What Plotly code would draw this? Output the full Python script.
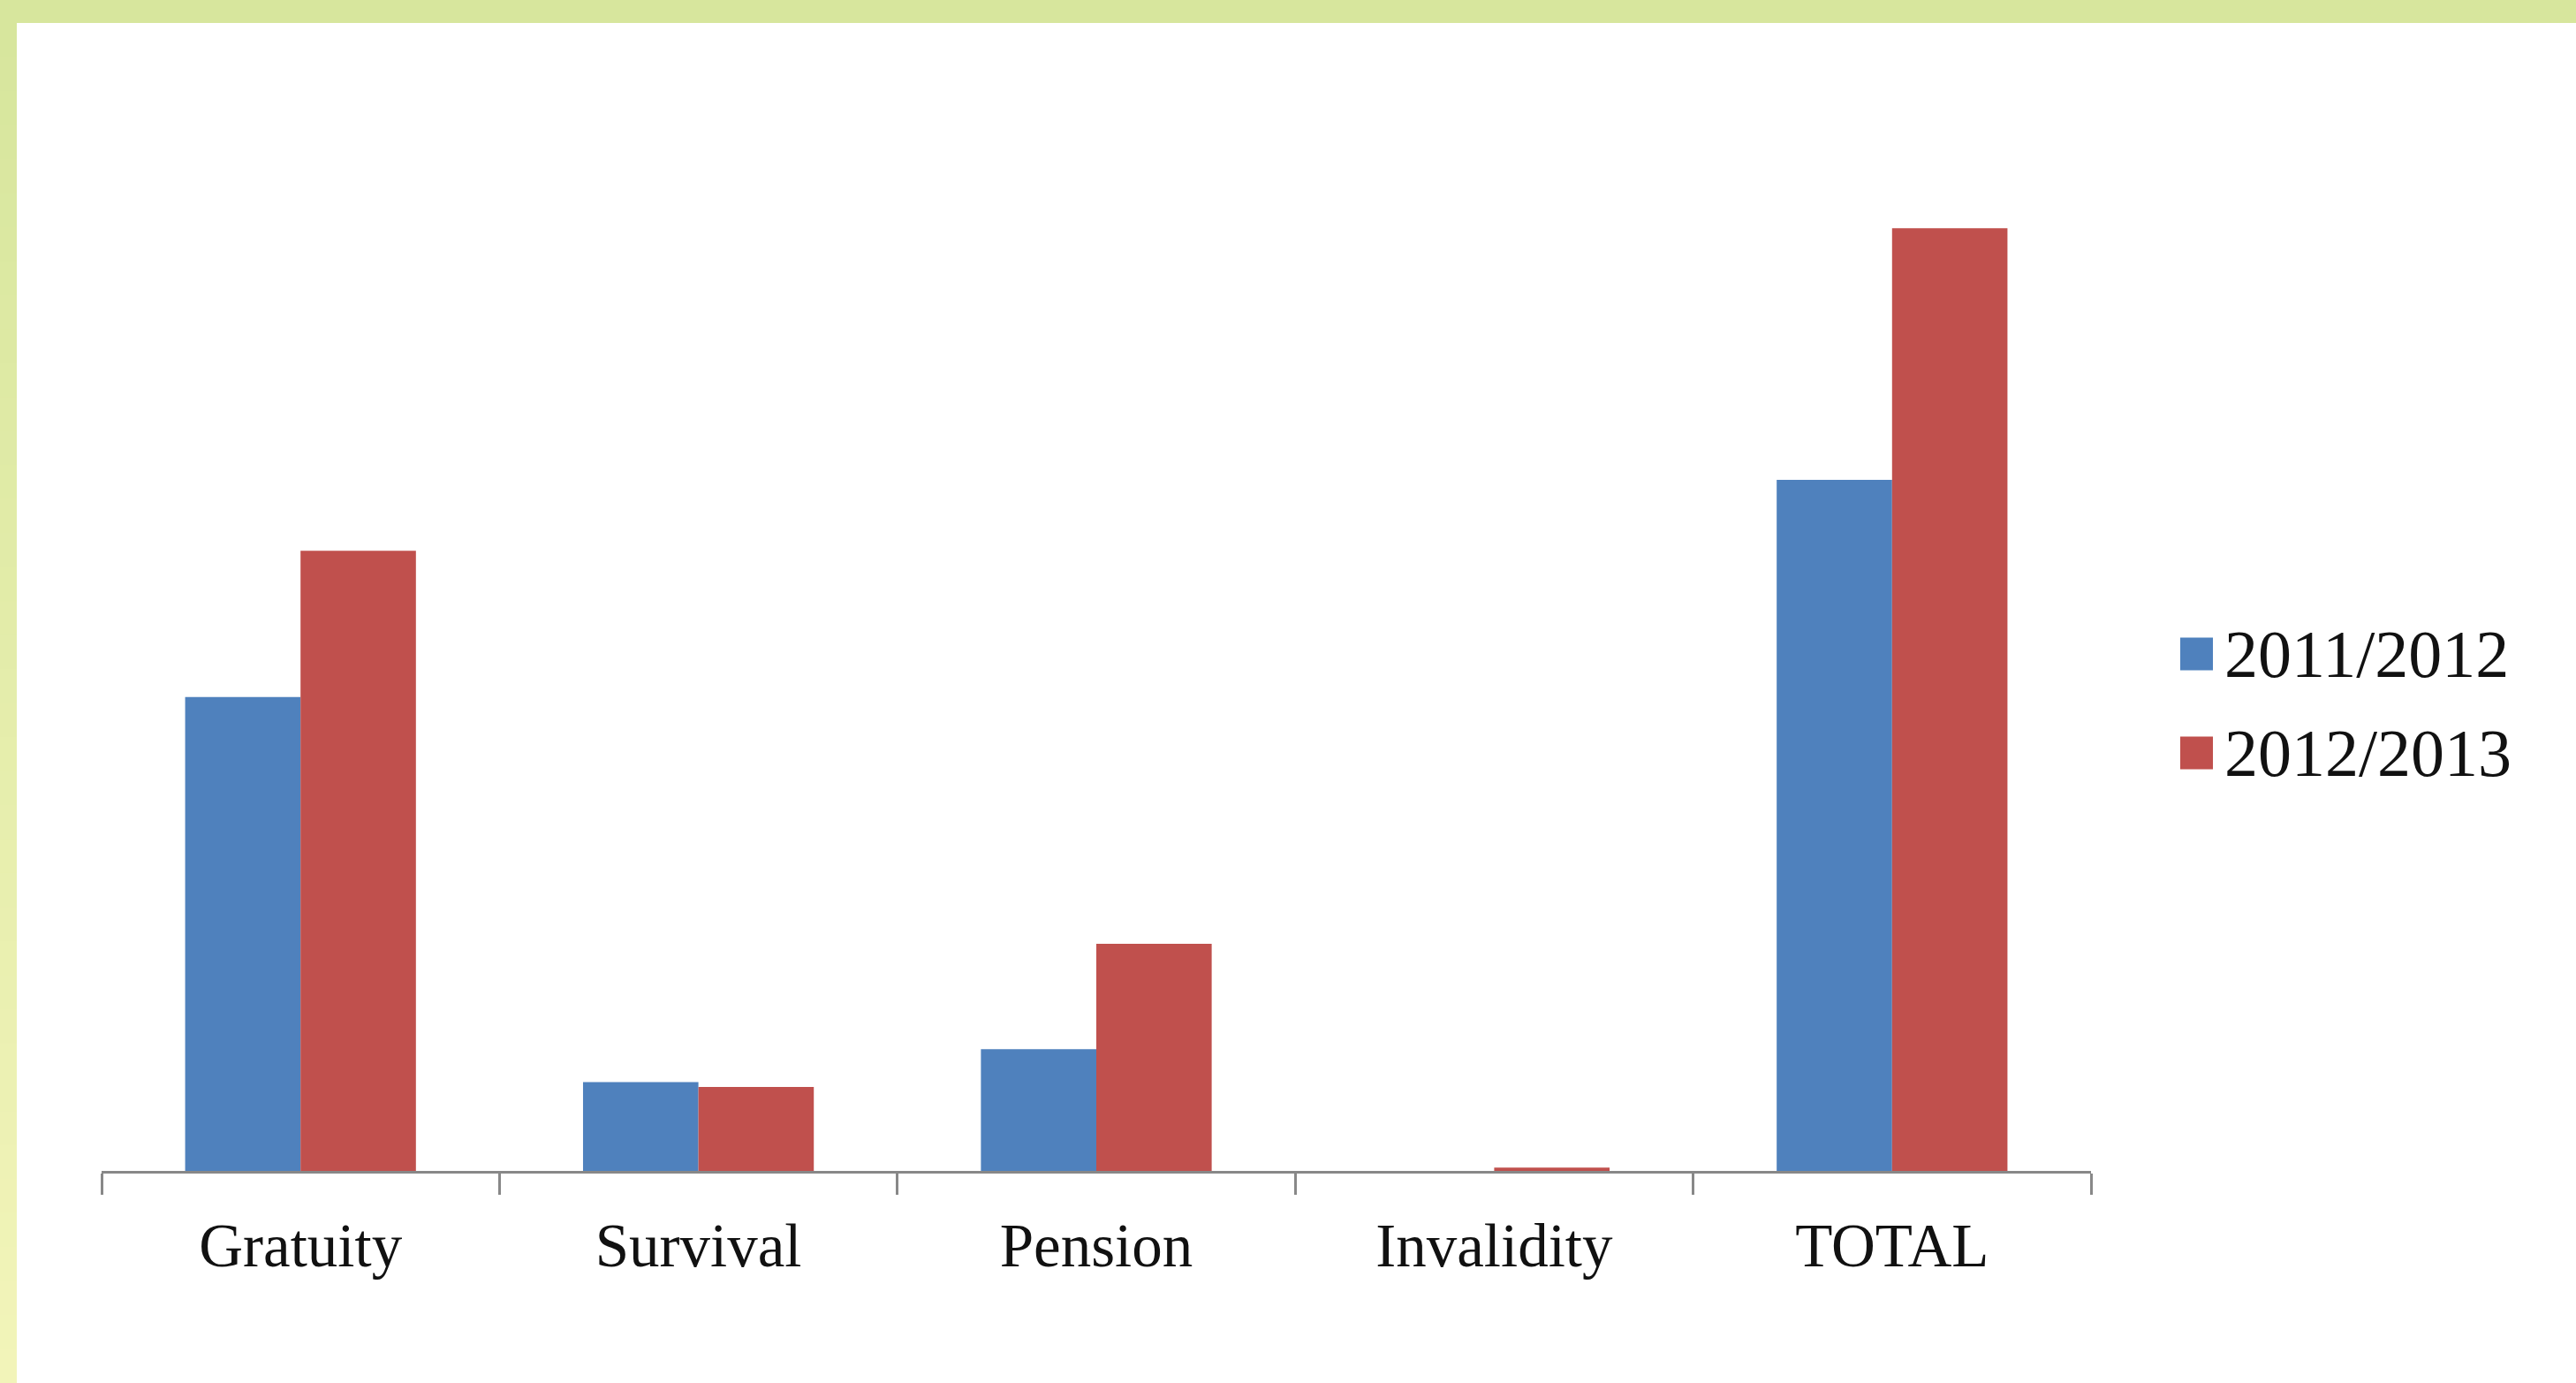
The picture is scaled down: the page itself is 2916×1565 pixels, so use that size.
import plotly.graph_objects as go

categories = ["Gratuity", "Survival", "Pension", "Invalidity", "TOTAL"]
series_names = ["2011/2012", "2012/2013"]
values_2011_2012 = [288, 54, 74, 0, 420]
values_2012_2013 = [377, 51, 138, 2, 573]
series_colors = ["#4f81bd", "#c0504d"]

W, H = 2916, 1565
ML, MR, MT, MB = 115, 549, 100, 240
PW = W - ML - MR
PH = H - MT - MB
YMAX = 658


def px_x(px):
    return (px - ML) / PW


def px_y(py):
    return (H - MB - py) / PH


fig = go.Figure()
for name, vals, col in zip(series_names, [values_2011_2012, values_2012_2013], series_colors):
    fig.add_trace(go.Bar(x=categories, y=vals, name=name, marker=dict(color=col, line=dict(width=0))))

shapes = []
# top band
shapes.append(dict(type="rect", xref="paper", yref="paper", x0=px_x(0), x1=px_x(W), y0=px_y(26), y1=px_y(0),
                   fillcolor="#d7e69d", line=dict(width=0), layer="below"))
# left band gradient (green top -> pale yellow bottom)
c0 = (0xd7, 0xe6, 0x9d)
c1 = (0xf2, 0xf4, 0xb9)
N = 40
y_start, y_end = 26, H
for i in range(N):
    t = i / (N - 1)
    c = tuple(round(a + (b - a) * t) for a, b in zip(c0, c1))
    ya = y_start + (y_end - y_start) * i / N
    yb = y_start + (y_end - y_start) * (i + 1) / N + 1
    shapes.append(dict(type="rect", xref="paper", yref="paper", x0=px_x(0), x1=px_x(19), y0=px_y(yb), y1=px_y(ya),
                       fillcolor="rgb(%d,%d,%d)" % c, line=dict(width=0), layer="below"))

# custom legend
annotations = []
leg_rows = [740, 852]
for name, col, cy in zip(series_names, series_colors, leg_rows):
    shapes.append(dict(type="rect", xref="paper", yref="paper", x0=px_x(2468), x1=px_x(2505),
                       y0=px_y(cy + 18.5), y1=px_y(cy - 18.5), fillcolor=col, line=dict(width=0)))
    annotations.append(dict(xref="paper", yref="paper", x=px_x(2516), y=px_y(cy), text=name, showarrow=False,
                            xanchor="left", yanchor="middle",
                            font=dict(family="Liberation Serif", size=76, color="#111111")))

fig.update_layout(
    width=W, height=H,
    margin=dict(l=ML, r=MR, t=MT, b=MB, pad=0),
    paper_bgcolor="white", plot_bgcolor="rgba(0,0,0,0)",
    barmode="group", bargap=0.42, bargroupgap=0,
    showlegend=False,
    shapes=shapes, annotations=annotations,
    xaxis=dict(showline=True, linecolor="#888888", linewidth=3, ticks="outside", tickson="boundaries",
               ticklen=24, tickwidth=3, tickcolor="#888888", showgrid=False, zeroline=False,
               ticklabelstandoff=22,
               tickfont=dict(family="Liberation Serif", size=69, color="#111111")),
    yaxis=dict(visible=False, range=[0, YMAX], showgrid=False, zeroline=False),
)

fig.write_html("out.html")
